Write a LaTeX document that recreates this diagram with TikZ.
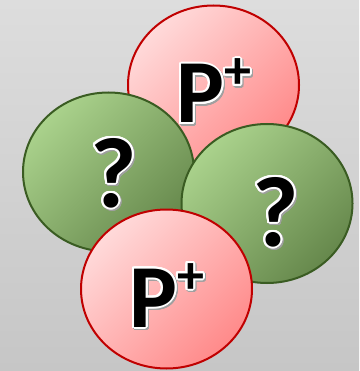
\documentclass[tikz,border=0pt]{standalone}
\usepackage{fontspec}
\setmainfont{Carlito}
\usepackage{contour}
\contourlength{2pt}
\contournumber{24}
\usetikzlibrary{shapes.geometric}
\definecolor{ProtonEdge}{RGB}{192,0,0}
\definecolor{ProtonLight}{RGB}{255,218,218}
\definecolor{ProtonDark}{RGB}{255,138,138}
\definecolor{UnknownEdge}{RGB}{58,92,34}
\definecolor{UnknownLight}{RGB}{170,210,140}
\definecolor{UnknownDark}{RGB}{102,136,76}
\definecolor{BackTop}{RGB}{221,221,221}
\definecolor{BackBottom}{RGB}{198,198,198}
\definecolor{TextShadow}{RGB}{160,160,160}

% label with white halo and soft shadow
\newcommand{\haloText}[1]{%
  \rlap{\hspace{1.5pt}\raisebox{-1.5pt}{\color{TextShadow}\contour{TextShadow}{#1}}}%
  \contour{white}{#1}}
\newcommand{\protonText}{P\raisebox{34pt}{\fontsize{54}{54}\selectfont +}}

\begin{document}
\begin{tikzpicture}[
    x=1pt, y=-1pt,
    particle/.style={
        ellipse,
        line width=2pt,
        minimum width=171pt,
        minimum height=159pt
    },
    proton/.style={
        particle,
        draw=ProtonEdge,
        top color=ProtonLight,
        bottom color=ProtonDark,
        shading angle=45
    },
    unknown/.style={
        particle,
        draw=UnknownEdge,
        top color=UnknownLight,
        bottom color=UnknownDark,
        shading angle=45
    },
    bigtext/.style={anchor=base west, inner sep=0pt, text=black,
        font=\fontsize{90}{90}\selectfont\bfseries},
    asktext/.style={bigtext, font=\fontsize{100}{100}\selectfont\bfseries}
]

% background
\shade[top color=BackTop, bottom color=BackBottom] (0,0) rectangle (359,371);
\useasboundingbox (0,0) rectangle (359,371);

% particles, back to front
\node[proton]  (ptop)   at (213.5,85) {};
\node[unknown] (uleft)  at (108.5,172) {};
\node[unknown] (uright) at (267,203.5) {};
\node[proton]  (pbot)   at (166.5,289) {};

% labels
\node[bigtext] (ptoplbl)   at (176,123) {\haloText{\protonText}};
\node[asktext] (uleftlbl)  at (90,207)  {\haloText{?}};
\node[asktext] (urightlbl) at (252,246) {\haloText{?}};
\node[bigtext] (pbotlbl)   at (129,327) {\haloText{\protonText}};

\end{tikzpicture}
\end{document}
